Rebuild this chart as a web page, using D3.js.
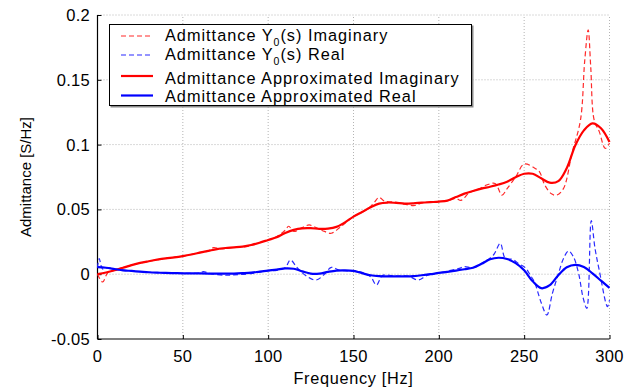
<!DOCTYPE html>
<html>
<head>
<meta charset="utf-8">
<script src="https://cdn.jsdelivr.net/npm/d3@7"></script>
<style>
  body { margin: 0; background: #fff; }
  text { font-family: "Liberation Sans", Arial, sans-serif; fill: #000; }
</style>
</head>
<body>
<div id="chart"></div>
<script>
// frequency grid of the approximated curves (Hz)
var approxFreq = d3.range(0, 301, 5);

// Admittance Approximated Imaginary, one value per approxFreq
var imagApprox = [
  0.0, 0.0013, 0.003, 0.005, 0.007, 0.0087, 0.010, 0.0112, 0.0122, 0.013,
  0.014, 0.0152, 0.0166, 0.018, 0.0194, 0.0202, 0.0207, 0.0213, 0.0225, 0.0243,
  0.0264, 0.0285, 0.0318, 0.0342, 0.0354, 0.0355, 0.035, 0.0352, 0.0365, 0.040,
  0.0444, 0.048, 0.0516, 0.0545, 0.0553, 0.055, 0.0545, 0.0547, 0.0552, 0.0556,
  0.056, 0.0568, 0.0595, 0.0622, 0.0642, 0.066, 0.0675, 0.0692, 0.0714, 0.0748,
  0.0775, 0.0775, 0.074, 0.0706, 0.0718, 0.082, 0.0995, 0.111, 0.1164, 0.1126,
  0.102
];

// Admittance Approximated Real
var realApprox = [
  0.0055, 0.005, 0.004, 0.003, 0.0025, 0.002, 0.0015, 0.0012, 0.001, 0.0008,
  0.0007, 0.0006, 0.0006, 0.0005, 0.0005, 0.0004, 0.0005, 0.0008, 0.0012, 0.002,
  0.0028, 0.0036, 0.0045, 0.0042, 0.0022, 0.0005, 0.0005, 0.0018, 0.0028, 0.003,
  0.0025, 0.0008, -0.0008, -0.0015, -0.0017, -0.0017, -0.0017, -0.0015, -0.0008, 0.0,
  0.001, 0.0018, 0.0027, 0.0038, 0.005, 0.008, 0.0115, 0.0127, 0.0117, 0.0085,
  0.003, -0.0055, -0.0108, -0.0085, -0.0008, 0.0053, 0.0072, 0.0055, 0.0007, -0.005,
  -0.0105
];

// Admittance Y0(s) Imaginary (measured)
var imagFreq = [0, 3, 6, 10, 20, 30, 40, 50, 60, 65, 68, 72, 80, 88, 90, 100, 105, 110, 112, 115,
  120, 124, 128, 133, 137, 142, 150, 158, 162, 165, 168, 175, 180, 186, 190, 200, 205, 210, 213, 218,
  224, 228, 233, 237, 240, 245, 250, 256, 259, 262, 266, 269, 273, 278, 283, 285.5, 287.5, 289, 291, 294,
  297.5, 300];
var imagMeas = [0.0, -0.006, 0.001, 0.003, 0.007, 0.010, 0.0122, 0.014, 0.0168, 0.018, 0.0205, 0.0195, 0.0207, 0.0215, 0.0225, 0.0264, 0.029, 0.034, 0.037, 0.033,
  0.036, 0.038, 0.036, 0.033, 0.0316, 0.036, 0.0444, 0.050, 0.055, 0.0593, 0.0565, 0.0555, 0.054, 0.053, 0.055, 0.056, 0.0565, 0.0585, 0.057, 0.063,
  0.066, 0.0688, 0.070, 0.061, 0.066, 0.075, 0.085, 0.082, 0.079, 0.069, 0.062, 0.061, 0.066, 0.0933, 0.119, 0.165, 0.1885, 0.16, 0.119, 0.110,
  0.097, 0.101];

// Admittance Y0(s) Real (measured)
var realFreq = [0, 1, 3, 6, 10, 20, 30, 40, 50, 60, 62, 66, 75, 80, 90, 100, 105, 110, 113, 117,
  122, 128, 133, 137, 142, 150, 155, 160, 163.5, 167, 175, 182, 188, 193, 200, 207, 212, 215, 220, 226,
  232, 236, 239, 243, 247, 251, 253.5, 256, 260, 263.3, 266.5, 270, 273, 276, 279, 282, 284.5, 286.7, 289.3, 291.5,
  294, 298.8, 300];
var realMeas = [0.005, 0.012, 0.004, 0.005, 0.004, 0.0025, 0.0015, 0.001, 0.0007, 0.001, 0.002, 0.0005, -0.0008, -0.0005, 0.0005, 0.0027, 0.003, 0.005, 0.011, 0.005,
  -0.001, -0.0045, 0.0, 0.0053, 0.003, 0.0025, 0.0015, -0.002, -0.0083, -0.001, -0.0015, -0.0015, -0.0045, -0.001, 0.001, 0.003, 0.0045, 0.0058, 0.005, 0.009,
  0.0148, 0.0238, 0.012, 0.0115, 0.008, 0.0046, -0.0006, -0.006, -0.022, -0.0315, -0.015, 0.0, 0.012, 0.0179, 0.013, 0.0, -0.018, -0.0263, 0.0413, 0.02,
  0.003, -0.025, -0.02];

var xTicks = [0, 50, 100, 150, 200, 250, 300];
var yTicks = [-0.05, 0, 0.05, 0.1, 0.15, 0.2];

var legendLabels = [
  ["Admittance Y", "0", "(s) Imaginary"],
  ["Admittance Y", "0", "(s) Real"],
  ["Admittance Approximated Imaginary"],
  ["Admittance Approximated Real"]
];

// set width and height of graphic
var width = 637,
  height = 387;
var margin = {left: 97.5, right: 27.5, top: 15, bottom: 48};

var svg = d3.select("#chart").append("svg")
  .attr("width", width)
  .attr("height", height);

var x = d3.scaleLinear()
  .domain([0, 300])
  .range([margin.left, width - margin.right]);

var y = d3.scaleLinear()
  .domain([-0.05, 0.2])
  .range([height - margin.bottom, margin.top]);

// dotted grid
var grid = svg.append("g").attr("class", "grid");
grid.selectAll(".gx")
  .data(xTicks.slice(1))
  .enter().append("line")
    .attr("x1", function(d) { return x(d); })
    .attr("x2", function(d) { return x(d); })
    .attr("y1", y(-0.05))
    .attr("y2", y(0.2))
    .attr("stroke", "#b4b4b4")
    .attr("stroke-dasharray", "1,2");
grid.selectAll(".gy")
  .data(yTicks.slice(1))
  .enter().append("line")
    .attr("x1", x(0))
    .attr("x2", x(300))
    .attr("y1", function(d) { return y(d); })
    .attr("y2", function(d) { return y(d); })
    .attr("stroke", "#b4b4b4")
    .attr("stroke-dasharray", "1,2");

// axes (ticks pointing inward)
var xAxis = svg.append("g")
  .attr("transform", "translate(0," + y(-0.05) + ")")
  .call(d3.axisTop(x).tickValues(xTicks).tickSize(4).tickFormat(""));
var yAxis = svg.append("g")
  .attr("transform", "translate(" + x(0) + ",0)")
  .call(d3.axisRight(y).tickValues(yTicks).tickSize(4).tickFormat(""));
svg.selectAll(".domain").attr("stroke", "#000").attr("stroke-width", 1.2);
svg.selectAll(".tick line").attr("stroke", "#000");
// keep only the left and bottom spine segments
xAxis.select(".domain").attr("d", "M" + x(0) + ",0H" + x(300));
yAxis.select(".domain").attr("d", "M0," + y(-0.05) + "V" + y(0.2));

svg.selectAll(".xlab")
  .data(xTicks)
  .enter().append("text")
    .attr("x", function(d) { return x(d); })
    .attr("y", 362)
    .attr("text-anchor", "middle")
    .attr("font-size", "16.5px")
    .attr("letter-spacing", "0.3px")
    .text(function(d) { return d; });

svg.selectAll(".ylab")
  .data(yTicks)
  .enter().append("text")
    .attr("x", 90)
    .attr("y", function(d) { return y(d) + 6; })
    .attr("text-anchor", "end")
    .attr("font-size", "16.5px")
    .attr("letter-spacing", "0.3px")
    .text(function(d) { return d; });

svg.append("text")
  .attr("x", (x(0) + x(300)) / 2)
  .attr("y", 384)
  .attr("text-anchor", "middle")
  .attr("font-size", "16.3px")
  .attr("letter-spacing", "0.7px")
  .text("Frequency [Hz]");

svg.append("text")
  .attr("transform", "translate(31," + (y(0.075)) + ") rotate(-90)")
  .attr("text-anchor", "middle")
  .attr("font-size", "15px")
  .text("Admittance [S/Hz]");

// lines
var line = d3.line()
  .x(function(d) { return x(d[0]); })
  .y(function(d) { return y(d[1]); })
  .curve(d3.curveCatmullRom);

var plot = svg.append("g");

plot.append("path")
  .datum(d3.zip(imagFreq, imagMeas))
  .attr("d", line)
  .attr("fill", "none")
  .attr("stroke", "#ff2a2a")
  .attr("stroke-width", 1.2)
  .attr("stroke-dasharray", "5,3");

plot.append("path")
  .datum(d3.zip(realFreq, realMeas))
  .attr("d", line)
  .attr("fill", "none")
  .attr("stroke", "#2a2aff")
  .attr("stroke-width", 1.2)
  .attr("stroke-dasharray", "5,3");

plot.append("path")
  .datum(d3.zip(approxFreq, imagApprox))
  .attr("d", line)
  .attr("fill", "none")
  .attr("stroke", "#ff0000")
  .attr("stroke-width", 2.2);

plot.append("path")
  .datum(d3.zip(approxFreq, realApprox))
  .attr("d", line)
  .attr("fill", "none")
  .attr("stroke", "#0000ff")
  .attr("stroke-width", 2.2);

// legend
var legend = svg.append("g").attr("class", "legend");
legend.append("rect")
  .attr("x", 110.5)
  .attr("y", 25.5)
  .attr("width", 363)
  .attr("height", 82)
  .attr("fill", "#8a8a8a");
legend.append("rect")
  .attr("x", 109.5)
  .attr("y", 24.5)
  .attr("width", 362)
  .attr("height", 81)
  .attr("fill", "#fff")
  .attr("stroke", "#000");

var lineY = [36, 55, 76, 95.5];
var textY = [41, 60, 83.5, 102];
var rowColor = ["#ff2a2a", "#2a2aff", "#ff0000", "#0000ff"];
var rowDash = ["5,3", "5,3", null, null];

legendLabels.forEach(function(lab, i) {
  legend.append("line")
    .attr("x1", 121)
    .attr("x2", 153)
    .attr("y1", lineY[i])
    .attr("y2", lineY[i])
    .attr("stroke", rowColor[i])
    .attr("stroke-width", i < 2 ? 1.2 : 2.2)
    .attr("stroke-dasharray", rowDash[i]);
  var t = legend.append("text")
    .attr("x", 165)
    .attr("y", textY[i])
    .attr("font-size", "16.3px")
    .attr("letter-spacing", "1px");
  t.append("tspan").text(lab[0]);
  if (lab.length > 1) {
    t.append("tspan").attr("dy", 4.5).attr("font-size", "10.5px").text(lab[1]);
    t.append("tspan").attr("dy", -4.5).text(lab[2]);
  }
});
</script>
</body>
</html>
